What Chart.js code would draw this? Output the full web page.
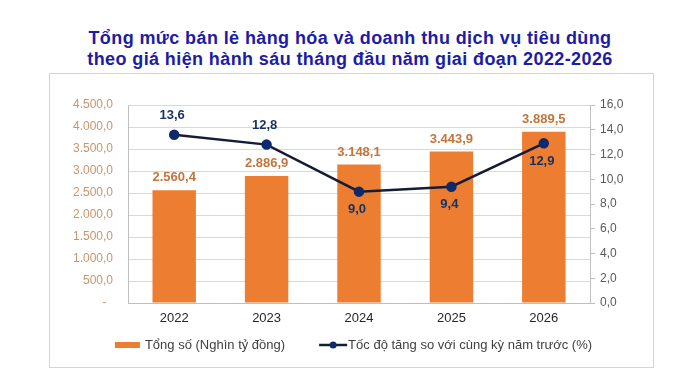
<!DOCTYPE html>
<html>
<head>
<meta charset="utf-8">
<script src="https://cdn.jsdelivr.net/npm/chart.js@4.4.1/dist/chart.umd.min.js"></script>
<style>
  html, body { margin: 0; padding: 0; background: #fff; }
  body { width: 700px; height: 384px; position: relative; overflow: hidden; }
  #title {
    position: absolute; left: 0; top: 28px; width: 700px;
    text-align: center; color: #1c1ca6;
    font: bold 18px "Liberation Sans", Arial, sans-serif;
    letter-spacing: 0.4px;
    line-height: 21px;
  }
  #frame { position: absolute; left: 49px; top: 73px; border: 1px solid #d4d4d4; }
  #chart { display: block; }
</style>
</head>
<body>
<div id="title">Tổng mức bán lẻ hàng hóa và doanh thu dịch vụ tiêu dùng<br>theo giá hiện hành sáu tháng đầu năm giai đoạn 2022-2026</div>
<div id="frame"><canvas id="chart" width="603" height="293"></canvas></div>

<script>
  // ---- data ----
  const YEARS = ['2022', '2023', '2024', '2025', '2026'];
  const TOTAL = [2560.4, 2886.9, 3148.1, 3443.9, 3889.5];      // nghìn tỷ đồng
  const GROWTH = [13.6, 12.8, 9.0, 9.4, 12.9];                  // %
  const LEGEND_TEXT = ['Tổng số (Nghìn tỷ đồng)', 'Tốc độ tăng so với cùng kỳ năm trước (%)'];

  // placement of the growth labels relative to the point
  const GROWTH_LABEL_SIDE = ['up', 'up', 'down', 'down', 'down'];

  const BAR_COLOR = '#ED7D31';
  const BAR_LABEL_COLOR = '#C5743A';
  const LINE_COLOR = '#161c38';
  const POINT_COLOR = '#0f2a6c';
  const LINE_LABEL_COLOR = '#17315f';
  const FONT = '"Liberation Sans", Arial, sans-serif';

  // vietnamese number format: 4.500,0
  function fmtVN(v, digits) {
    const parts = Math.abs(v).toFixed(digits).split('.');
    const intPart = parts[0].replace(/\B(?=(\d{3})+(?!\d))/g, '.');
    return (v < 0 ? '-' : '') + intPart + (parts[1] ? ',' + parts[1] : '');
  }

  const valueLabels = {
    id: 'valueLabels',
    afterDatasetsDraw(chart) {
      const ctx = chart.ctx;
      ctx.save();
      ctx.textAlign = 'center';
      ctx.font = 'bold 13px ' + FONT;

      // bar labels
      const barMeta = chart.getDatasetMeta(0);
      ctx.fillStyle = BAR_LABEL_COLOR;
      ctx.textBaseline = 'bottom';
      barMeta.data.forEach((el, i) => {
        ctx.fillText(fmtVN(TOTAL[i], 1), el.x, el.y - 6);
      });

      // line labels
      const lineMeta = chart.getDatasetMeta(1);
      ctx.fillStyle = LINE_LABEL_COLOR;
      ctx.textBaseline = 'middle';
      lineMeta.data.forEach((el, i) => {
        const dy = GROWTH_LABEL_SIDE[i] === 'up' ? -19 : 18;
        ctx.fillText(fmtVN(GROWTH[i], 1), el.x - 2, el.y + dy);
      });
      ctx.restore();
    }
  };

  // legend drawn under the axis, centred in the frame
  const bottomLegend = {
    id: 'bottomLegend',
    afterDraw(chart) {
      const ctx = chart.ctx;
      ctx.save();
      ctx.font = '13px ' + FONT;
      ctx.textBaseline = 'middle';
      ctx.textAlign = 'left';
      const y = 271;
      const markW = [25, 28];
      const gapText = 5, gapItem = 34;
      const w0 = ctx.measureText(LEGEND_TEXT[0]).width;
      const w1 = ctx.measureText(LEGEND_TEXT[1]).width;
      const total = markW[0] + gapText + w0 + gapItem + markW[1] + 1 + w1;
      let x = chart.width / 2 - total / 2 + 2;

      ctx.fillStyle = BAR_COLOR;
      ctx.fillRect(x, y - 3, markW[0], 6);
      x += markW[0] + gapText;
      ctx.fillStyle = '#404040';
      ctx.fillText(LEGEND_TEXT[0], x, y);
      x += w0 + gapItem;

      ctx.strokeStyle = LINE_COLOR;
      ctx.lineWidth = 2.5;
      ctx.beginPath();
      ctx.moveTo(x, y);
      ctx.lineTo(x + markW[1], y);
      ctx.stroke();
      ctx.fillStyle = POINT_COLOR;
      ctx.beginPath();
      ctx.arc(x + markW[1] / 2, y, 3.5, 0, Math.PI * 2);
      ctx.fill();
      x += markW[1] + 1;
      ctx.fillStyle = '#404040';
      ctx.fillText(LEGEND_TEXT[1], x, y);
      ctx.restore();
    }
  };

  new Chart(document.getElementById('chart'), {
    data: {
      labels: YEARS,
      datasets: [
        {
          type: 'bar',
          label: LEGEND_TEXT[0],
          data: TOTAL,
          backgroundColor: BAR_COLOR,
          yAxisID: 'y',
          categoryPercentage: 1,
          barPercentage: 0.47,
          order: 1
        },
        {
          type: 'line',
          label: LEGEND_TEXT[1],
          data: GROWTH,
          borderColor: LINE_COLOR,
          borderWidth: 2.5,
          pointRadius: 4,
          pointBackgroundColor: POINT_COLOR,
          pointBorderColor: POINT_COLOR,
          tension: 0,
          yAxisID: 'y1',
          order: 0
        }
      ]
    },
    options: {
      responsive: false,
      animation: false,
      layout: { padding: { top: 31, bottom: 39, left: 0, right: 0 } },
      plugins: { legend: { display: false }, tooltip: { enabled: false } },
      scales: {
        x: {
          grid: { display: false, drawTicks: false },
          border: { display: true, color: '#bfbfbf' },
          ticks: { color: '#262626', font: { family: FONT, size: 13 }, padding: 8 },
          afterFit: (s) => { s.height = 25; }
        },
        y: {
          position: 'left',
          min: 0,
          max: 4500,
          grid: { color: '#d9d9d9', drawTicks: false },
          border: { display: true, color: '#bfbfbf' },
          ticks: {
            stepSize: 500,
            color: '#c8956b',
            font: { family: FONT, size: 12 },
            padding: 15,
            callback: (v) => (v === 0 ? '-  ' : fmtVN(v, 1))
          },
          afterFit: (s) => { s.width = 78; }
        },
        y1: {
          position: 'right',
          min: 0,
          max: 16,
          grid: { drawOnChartArea: false, drawTicks: true, tickLength: 5, color: '#bfbfbf' },
          border: { display: true, color: '#bfbfbf' },
          ticks: {
            stepSize: 2,
            color: '#595959',
            font: { family: FONT, size: 12 },
            padding: 5,
            callback: (v) => fmtVN(v, 1)
          },
          afterFit: (s) => { s.width = 63; }
        }
      }
    },
    plugins: [valueLabels, bottomLegend]
  });
</script>
</body>
</html>
